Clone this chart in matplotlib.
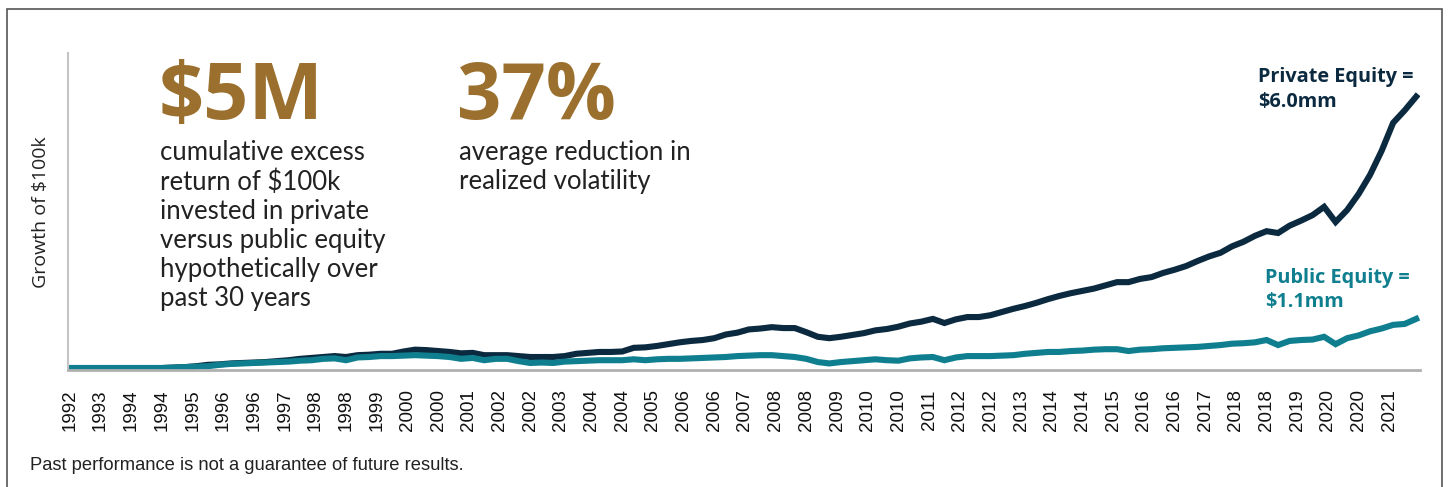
import matplotlib
matplotlib.use("Agg")
import matplotlib.pyplot as plt
from matplotlib.patches import Rectangle

# quarterly series, Sep 1992 -> Dec 2021, growth of $100k in $mm
private_equity = [
    0.10, 0.10, 0.10, 0.10, 0.10, 0.10, 0.10, 0.10, 0.10, 0.11,
    0.12, 0.14, 0.17, 0.18, 0.20, 0.21, 0.22, 0.23, 0.25, 0.27,
    0.30, 0.32, 0.34, 0.36, 0.34, 0.38, 0.39, 0.41, 0.41, 0.46,
    0.50, 0.49, 0.47, 0.45, 0.42, 0.43, 0.38, 0.38, 0.38, 0.36,
    0.34, 0.34, 0.34, 0.36, 0.41, 0.43, 0.45, 0.45, 0.46, 0.54,
    0.55, 0.58, 0.62, 0.66, 0.69, 0.71, 0.75, 0.83, 0.87, 0.94,
    0.96, 0.99, 0.97, 0.97, 0.88, 0.78, 0.75, 0.78, 0.82, 0.86,
    0.92, 0.95, 1.00, 1.07, 1.11, 1.17, 1.08, 1.16, 1.21, 1.21,
    1.25, 1.32, 1.39, 1.45, 1.52, 1.60, 1.67, 1.73, 1.78, 1.83,
    1.90, 1.97, 1.97, 2.04, 2.08, 2.17, 2.24, 2.32, 2.43, 2.53,
    2.61, 2.75, 2.85, 2.98, 3.08, 3.04, 3.20, 3.31, 3.43, 3.61,
    3.28, 3.54, 3.89, 4.31, 4.83, 5.44, 5.71, 6.01,
]
public_equity = [
    0.10, 0.10, 0.10, 0.10, 0.10, 0.10, 0.10, 0.10, 0.10, 0.11,
    0.12, 0.13, 0.14, 0.17, 0.19, 0.20, 0.21, 0.22, 0.23, 0.24,
    0.26, 0.27, 0.30, 0.31, 0.27, 0.33, 0.34, 0.36, 0.36, 0.37,
    0.38, 0.37, 0.36, 0.34, 0.30, 0.32, 0.27, 0.30, 0.30, 0.25,
    0.21, 0.22, 0.21, 0.24, 0.25, 0.26, 0.27, 0.27, 0.27, 0.29,
    0.27, 0.29, 0.30, 0.30, 0.31, 0.32, 0.33, 0.34, 0.36, 0.37,
    0.38, 0.38, 0.36, 0.34, 0.30, 0.23, 0.20, 0.23, 0.25, 0.27,
    0.29, 0.27, 0.26, 0.31, 0.33, 0.34, 0.27, 0.33, 0.36, 0.36,
    0.36, 0.37, 0.38, 0.41, 0.43, 0.45, 0.45, 0.47, 0.48, 0.50,
    0.51, 0.51, 0.47, 0.50, 0.51, 0.53, 0.54, 0.55, 0.56, 0.58,
    0.60, 0.63, 0.64, 0.66, 0.71, 0.60, 0.69, 0.71, 0.72, 0.78,
    0.62, 0.75, 0.81, 0.90, 0.96, 1.04, 1.06, 1.17,
]
tick_labels = [
    "1992", "1993", "1994", "1994", "1995", "1996", "1996", "1997",
    "1998", "1998", "1999", "2000", "2000", "2001", "2002", "2002",
    "2003", "2004", "2004", "2005", "2006", "2006", "2007", "2008",
    "2008", "2009", "2010", "2010", "2011", "2012", "2012", "2013",
    "2014", "2014", "2015", "2016", "2016", "2017", "2018", "2018",
    "2019", "2020", "2020", "2021",
]

NAVY = "#0b2a40"
TEAL = "#0f7f8f"
GOLD = "#9b702e"
W, H = 1450, 487

# months since Sep 1992
months = [3 * i for i in range(len(private_equity))]
tick_pos = [8 * i for i in range(len(tick_labels))]


def fx(px):
    return px / W


def fy(py):
    return 1 - py / H


fig = plt.figure(figsize=(14.5, 4.87), dpi=100)
fig.patches.append(Rectangle((fx(7), -0.01), fx(1442) - fx(7), fy(9) + 0.01,
                             transform=fig.transFigure, fill=False,
                             edgecolor="#555555", lw=1.2))

ax = fig.add_axes([fx(68), fy(370), fx(1420) - fx(68), fy(53) - fy(370)])
ax.plot(months, private_equity, color=NAVY, lw=4.4, solid_joinstyle="miter")
ax.plot(months, public_equity, color=TEAL, lw=4.4, solid_joinstyle="miter")
ax.set_xlim(-0.5, 352)
ax.set_ylim(0.057, 6.96)

for side in ["top", "right"]:
    ax.spines[side].set_visible(False)
ax.spines["left"].set_color("#c4c4c4")
ax.spines["bottom"].set_color("#b0b0b0")
ax.spines["left"].set_linewidth(1.5)
ax.spines["bottom"].set_linewidth(2)
ax.set_yticks([])
ax.set_xticks(tick_pos)
ax.set_xticklabels(tick_labels, rotation=90, fontsize=13.5,
                   family="Liberation Sans", color="#111111")
ax.tick_params(axis="x", length=0, pad=14)

fig.text(fx(41), fy(212), "Growth of $100k", rotation=90, ha="center",
         va="center", fontsize=14, family="Open Sans", color="#222222")

fig.text(fx(159), fy(119), "$5M", fontsize=57, fontweight="bold",
         family="Open Sans", color=GOLD, va="baseline")
fig.text(fx(457), fy(119), "37%", fontsize=56, fontweight="bold",
         family="Open Sans", color=GOLD, va="baseline")

fig.text(fx(160), fy(140), "cumulative excess\nreturn of $100k\n"
         "invested in private\nversus public equity\n"
         "hypothetically over\npast 30 years",
         fontsize=18.5, family="Lato", color="#222222", va="top",
         linespacing=1.2)
fig.text(fx(459), fy(140), "average reduction in\nrealized volatility",
         fontsize=18.5, family="Lato", color="#222222", va="top",
         linespacing=1.2)

fig.text(fx(1258), fy(67), "Private Equity =\n$6.0mm", fontsize=14.3,
         fontweight="bold", family="Open Sans", color=NAVY, va="top",
         linespacing=1.3)
fig.text(fx(1265), fy(268), "Public Equity =\n$1.1mm", fontsize=14.3,
         fontweight="bold", family="Open Sans", color=TEAL, va="top",
         linespacing=1.3)

fig.text(fx(30), fy(465), "Past performance is not a guarantee of future results.",
         fontsize=13.2, family="Liberation Sans", color="#222222", va="center")

fig.savefig("out.png", dpi=100)
